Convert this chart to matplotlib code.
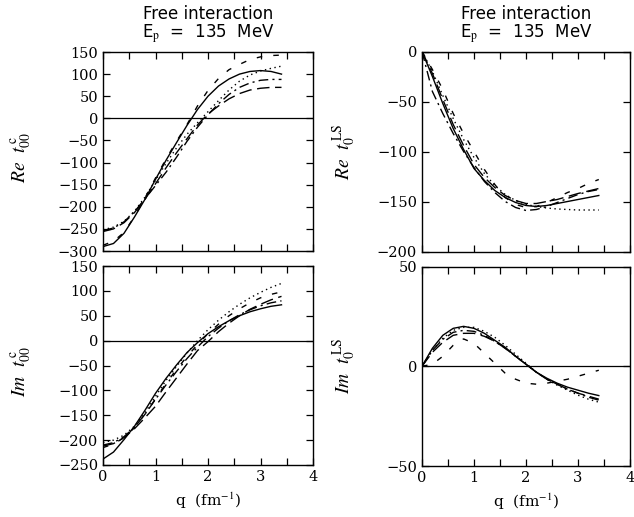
import matplotlib
matplotlib.use("Agg")
import matplotlib.pyplot as plt
from matplotlib.ticker import MultipleLocator

plt.rcParams['mathtext.fontset'] = 'stix'

q = [0.0, 0.2, 0.4, 0.6, 0.8, 1.0, 1.2, 1.4, 1.6, 1.8, 2.0, 2.2, 2.4, 2.6, 2.8, 3.0, 3.2, 3.4]

# Re t^C_00
re_c_solid = [-290, -283, -260, -223, -183, -138, -95, -55, -16, 20, 50, 73, 89, 100, 106, 108, 106, 100]
re_c_dot = [-252, -246, -233, -210, -178, -140, -102, -67, -36, -10, 15, 40, 64, 84, 98, 107, 113, 118]
re_c_ldash = [-256, -250, -236, -213, -183, -148, -112, -78, -46, -15, 10, 28, 44, 56, 64, 68, 70, 70]
re_c_dashdot = [-254, -248, -234, -211, -182, -152, -122, -88, -52, -20, 8, 33, 54, 70, 80, 86, 88, 88]
re_c_sdash = [-287, -278, -258, -222, -180, -135, -92, -52, -14, 28, 63, 90, 110, 122, 133, 139, 142, 143]

# Im t^C_00
im_c_solid = [-238, -224, -199, -172, -140, -106, -76, -49, -24, -4, 14, 28, 40, 50, 58, 64, 69, 72]
im_c_dot = [-205, -200, -190, -172, -145, -112, -80, -52, -25, 0, 22, 41, 58, 73, 86, 97, 107, 115]
im_c_ldash = [-212, -207, -195, -177, -155, -132, -103, -75, -47, -20, -2, 18, 35, 50, 63, 73, 82, 89]
im_c_dashdot = [-210, -205, -193, -174, -148, -118, -89, -62, -36, -13, 8, 25, 40, 52, 62, 70, 76, 80]
im_c_sdash = [-215, -208, -195, -175, -148, -117, -86, -58, -32, -8, 14, 33, 50, 64, 76, 86, 93, 98]

# Re t^LS_0
re_ls_solid = [0, -25, -52, -77, -98, -117, -129, -139, -146, -151, -154, -155, -154, -152, -150, -148, -146, -144]
re_ls_dot = [0, -20, -44, -67, -88, -106, -122, -134, -143, -149, -153, -155, -156.5, -157.5, -158, -158.5, -158.5, -158.5]
re_ls_ldash = [0, -22, -48, -73, -94, -113, -126, -136, -144, -149, -152, -152, -150, -148, -145, -142, -139.5, -137]
re_ls_dashdot = [0, -40, -62, -82, -100, -116, -130, -141, -150, -156, -159, -158, -155, -151, -147, -143, -140, -138]
re_ls_sdash = [0, -18, -38, -62, -82, -100, -118, -133, -146, -153, -156, -155, -151, -146, -141, -137, -132, -128]

# Im t^LS_0
im_ls_solid = [0, 9, 15.5, 19, 20, 19, 16.5, 13, 9.5, 5, 1, -3, -6, -8.5, -10.5, -12, -13.5, -14.7]
im_ls_dot = [0, 8, 14, 18, 19.5, 19.5, 17.5, 14.5, 10.5, 6, 1.5, -3, -6.5, -9.5, -12, -14.5, -16.5, -18]
im_ls_ldash = [0, 7, 12, 15.5, 16.5, 16.5, 15, 12.5, 9, 5, 1, -3, -6.5, -9, -11.5, -13.5, -15, -16.5]
im_ls_dashdot = [0, 8, 13.5, 17, 18, 17.5, 15.5, 12.5, 9, 5, 1, -3, -6.5, -9, -11.5, -13.5, -15.5, -17]
im_ls_sdash = [0, 1, 5, 10.5, 13.7, 11.5, 6.5, 1.5, -3.5, -6.5, -8.5, -9, -8.5, -7.5, -6.5, -5, -3.5, -2]

styles = ['-', (0, (1, 2.5)), (0, (9, 4)), (0, (7, 3, 1.5, 3)), (0, (4, 8))]

fig = plt.figure(figsize=(6.34, 5.17), dpi=100)
W, H = 634, 517


def add_ax(x0, x1, y0, y1):
    return fig.add_axes([x0 / W, 1 - y1 / H, (x1 - x0) / W, (y1 - y0) / H])


ax_tl = add_ax(103, 313, 52, 251)
ax_bl = add_ax(103, 313, 266, 465)
ax_tr = add_ax(422, 630, 51.5, 251.5)
ax_br = add_ax(422, 630, 266.5, 466)

panels = [
    (ax_tl, [re_c_solid, re_c_dot, re_c_ldash, re_c_dashdot, re_c_sdash], (-300, 150), r'$\mathit{Re}\ \ t^{\,\mathrm{c}}_{00}$'),
    (ax_bl, [im_c_solid, im_c_dot, im_c_ldash, im_c_dashdot, im_c_sdash], (-250, 150), r'$\mathit{Im}\ \ t^{\,\mathrm{c}}_{00}$'),
    (ax_tr, [re_ls_solid, re_ls_dot, re_ls_ldash, re_ls_dashdot, re_ls_sdash], (-200, 0), r'$\mathit{Re}\ \ t^{\,\mathrm{LS}}_{0}$'),
    (ax_br, [im_ls_solid, im_ls_dot, im_ls_ldash, im_ls_dashdot, im_ls_sdash], (-50, 50), r'$\mathit{Im}\ \ t^{\,\mathrm{LS}}_{0}$'),
]

for ax, series, ylim, ylab in panels:
    for ys, ls in zip(series, styles):
        ax.plot(q, ys, color='black', lw=1.0, linestyle=ls)
    ax.axhline(0, color='black', lw=0.9)
    ax.set_xlim(0, 4)
    ax.set_ylim(*ylim)
    ax.xaxis.set_major_locator(MultipleLocator(1))
    ax.xaxis.set_minor_locator(MultipleLocator(0.5))
    ax.yaxis.set_major_locator(MultipleLocator(50))
    ax.tick_params(which='both', direction='in', top=True, right=True, length=5, width=0.9)
    for lab in ax.get_xticklabels() + ax.get_yticklabels():
        lab.set_fontfamily('DejaVu Serif')
        lab.set_fontsize(10.5)
    for sp in ax.spines.values():
        sp.set_linewidth(1.0)
    ax.set_ylabel(ylab, fontsize=14)

ax_tl.tick_params(labelbottom=False)
ax_tr.tick_params(labelbottom=False)

ax_tl.yaxis.set_label_coords(-0.33, 0.47)
ax_bl.yaxis.set_label_coords(-0.33, 0.47)
ax_tr.yaxis.set_label_coords(-0.31, 0.5)
ax_br.yaxis.set_label_coords(-0.31, 0.5)

for ax in (ax_bl, ax_br):
    ax.set_xlabel(r'q  (fm$^{-1}$)', fontsize=11, family='DejaVu Serif', labelpad=5)

for cx in (208 / W, 526 / W):
    fig.text(cx, 1 - 14 / H, 'Free interaction', ha='center', va='center', fontsize=12, family='DejaVu Sans')
    fig.text(cx, 1 - 34 / H, r'E$_\mathrm{p}$  =  135  MeV', ha='center', va='center', fontsize=12, family='DejaVu Sans')

fig.savefig('out.png', dpi=100)
